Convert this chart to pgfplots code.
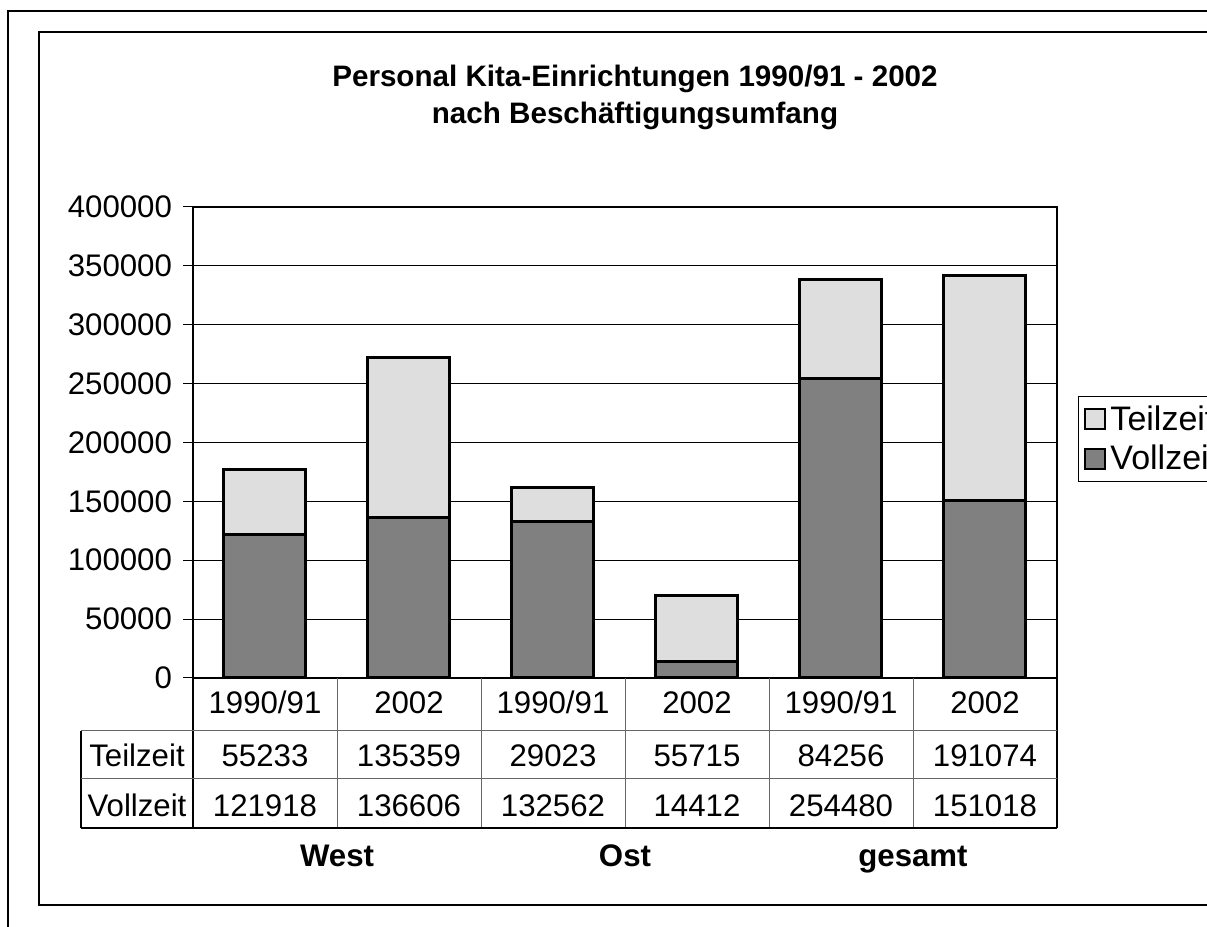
\documentclass[border=0pt]{standalone}
\usepackage{pgfplots}
\pgfplotsset{compat=1.18}
\usepackage{fontspec}
\setmainfont{Liberation Sans}
\newcommand\fs{\fontsize{15.6}{18}\selectfont}
\newcommand\fl{\fontsize{17}{19}\selectfont}
\newcommand\ft{\fontsize{14.8}{18}\selectfont\bfseries}
\definecolor{voll}{RGB}{128,128,128}
\definecolor{teil}{RGB}{222,222,222}
\begin{document}
\begin{tikzpicture}
\useasboundingbox (0,0) rectangle (603.5pt,463.5pt);
\clip (0,0) rectangle (603.5pt,463.5pt);
% frames (px coords: x*0.5pt, (927-y)*0.5pt)
\draw[black, line width=1pt] (4pt,-5pt) -- (4pt,458pt) -- (610pt,458pt);
\draw[black, line width=1pt] (610pt,11pt) -- (19.5pt,11pt) -- (19.5pt,447.5pt) -- (610pt,447.5pt);
\begin{axis}[
  at={(96.5pt,124.5pt)}, anchor=south west,
  width=432pt, height=235.5pt, scale only axis,
  ybar stacked, bar width=41pt,
  xmin=-0.5, xmax=5.5, ymin=0, ymax=400000,
  xtick={0,...,5},
  xticklabels={1990/91,2002,1990/91,2002,1990/91,2002},
  x tick style={draw=none},
  xticklabel style={font=\fs, anchor=center, text height=11.2pt, text depth=0pt, yshift=-7pt},
  ytick={0,50000,...,400000},
  ytick pos=left,
  scaled y ticks=false,
  yticklabel style={font=\fs, /pgf/number format/fixed, /pgf/number format/1000 sep={}, /pgf/number format/assume math mode=true, xshift=-2pt},
  ymajorgrids, grid style={black, line width=0.5pt},
  tick align=outside, major tick length=5pt,
  y tick style={black, line width=0.5pt},
  axis line style={black, line width=0.6pt},
  clip=false,
  reverse legend,
  legend style={at={(1.0243,0.5987)}, anchor=north west, draw=black, line width=0.5pt,
     font=\fl, inner xsep=3pt, inner ysep=2.5pt, row sep=2pt},
  legend cell align=left,
  legend image code/.code={\draw[#1, line width=1pt] (0pt,-5pt) rectangle (10pt,5pt);},
]
\addplot[fill=voll, draw=black, line width=1.5pt] coordinates {(0,121918) (1,136606) (2,132562) (3,14412) (4,254480) (5,151018)};
\addlegendentry{Vollzeit}
\addplot[fill=teil, draw=black, line width=1.5pt] coordinates {(0,55233) (1,135359) (2,29023) (3,55715) (4,84256) (5,191074)};
\addlegendentry{Teilzeit}
\end{axis}
% data table
\begin{scope}[x=0.5pt, y=-0.5pt, yshift=463.5pt]
  \foreach \xx in {337,481,625,769,913} \draw[black!60, line width=0.5pt] (\xx,678) -- (\xx,828);
  \draw[black, line width=0.6pt] (193,678) -- (193,828);
  \draw[black, line width=0.6pt] (1057,678) -- (1057,828);
  \draw[black, line width=0.6pt] (81,731) -- (81,828);
  \draw[black!60, line width=0.5pt] (81,731) -- (1057,731);
  \draw[black!60, line width=0.5pt] (81,779) -- (1057,779);
  \draw[black, line width=0.6pt] (81,828) -- (1057,828);
  \node[font=\fs, anchor=base] at (137,767) {Teilzeit};
  \node[font=\fs, anchor=base] at (137,817) {Vollzeit};
  \foreach \xx/\v in {265/55233,409/135359,553/29023,697/55715,841/84256,985/191074}
     \node[font=\fs, anchor=base] at (\xx,767) {\v};
  \foreach \xx/\v in {265/121918,409/136606,553/132562,697/14412,841/254480,985/151018}
     \node[font=\fs, anchor=base] at (\xx,817) {\v};
  \node[font=\fs\bfseries, anchor=base] at (337,867) {West};
  \node[font=\fs\bfseries, anchor=base] at (625,867) {Ost};
  \node[font=\fs\bfseries, anchor=base] at (913,867) {gesamt};
  \node[font=\ft, anchor=base] at (635,87) {Personal Kita-Einrichtungen 1990/91 - 2002};
  \node[font=\ft, anchor=base] at (635,124) {nach Beschäftigungsumfang};
\end{scope}
\end{tikzpicture}
\end{document}
